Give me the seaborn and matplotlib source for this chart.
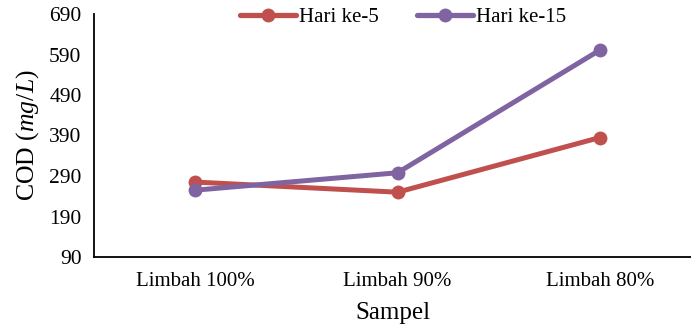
import matplotlib
matplotlib.use("Agg")
import matplotlib.pyplot as plt
import seaborn as sns
import pandas as pd

categories = ["Limbah 100%", "Limbah 90%", "Limbah 80%"]
hari5 = [275, 250, 385]
hari15 = [255, 298, 601]
series_names = ["Hari ke-5", "Hari ke-15"]
colors = ["#C0504D", "#8064A2"]
yticks = [90, 190, 290, 390, 490, 590, 690]

df = pd.DataFrame({
    "Sampel": categories * 2,
    "COD": hari5 + hari15,
    "Hari": [series_names[0]] * 3 + [series_names[1]] * 3,
})

sns.set_style("white")
plt.rcParams["font.family"] = ["Liberation Serif", "DejaVu Serif"]
plt.rcParams["mathtext.fontset"] = "custom"
plt.rcParams["mathtext.rm"] = "Liberation Serif"
plt.rcParams["mathtext.it"] = "Liberation Serif:italic"
for k in ["text.color", "axes.labelcolor", "xtick.color", "ytick.color"]:
    plt.rcParams[k] = "black"

fig = plt.figure(figsize=(6.91, 3.28), dpi=100)
ax = fig.add_axes([94 / 691, 1 - 257 / 328, 1 - 94 / 691, (257 - 14) / 328])

sns.lineplot(data=df, x="Sampel", y="COD", hue="Hari", palette=colors,
             marker="o", markersize=10, markeredgewidth=0, linewidth=3.6,
             ax=ax, legend=True, sort=False)

ax.set_xlim(-0.5, 2.45)
ax.set_ylim(90, 690)
ax.set_yticks(yticks)
ax.set_yticklabels([str(v) for v in yticks], fontsize=15.5)
ax.set_xticks(range(len(categories)))
ax.set_xticklabels(categories, fontsize=15)
ax.tick_params(axis="y", direction="in", length=5, width=1.2, pad=9, colors="black")
ax.tick_params(axis="x", direction="in", length=4, width=1.2, pad=11, colors="black")
for s in ["top", "right"]:
    ax.spines[s].set_visible(False)
for s in ["left", "bottom"]:
    ax.spines[s].set_color("black")
    ax.spines[s].set_linewidth(1.3)

ax.set_xlabel("Sampel", fontsize=18, labelpad=8)
ax.set_ylabel(r"COD ($\mathit{mg/L}$)", fontsize=18.5, labelpad=6)

handles, labels = ax.get_legend_handles_labels()
for h in handles:
    h.set_linewidth(3.8)
    h.set_markersize(10)
ax.legend_.remove()
fig.legend(handles, labels, loc="center", bbox_to_anchor=(403 / 691, 1 - 17 / 328),
           ncol=2, frameon=False, fontsize=15, handlelength=2.7,
           handletextpad=0.15, columnspacing=1.8, borderaxespad=0)

fig.savefig("out.png", dpi=100)
